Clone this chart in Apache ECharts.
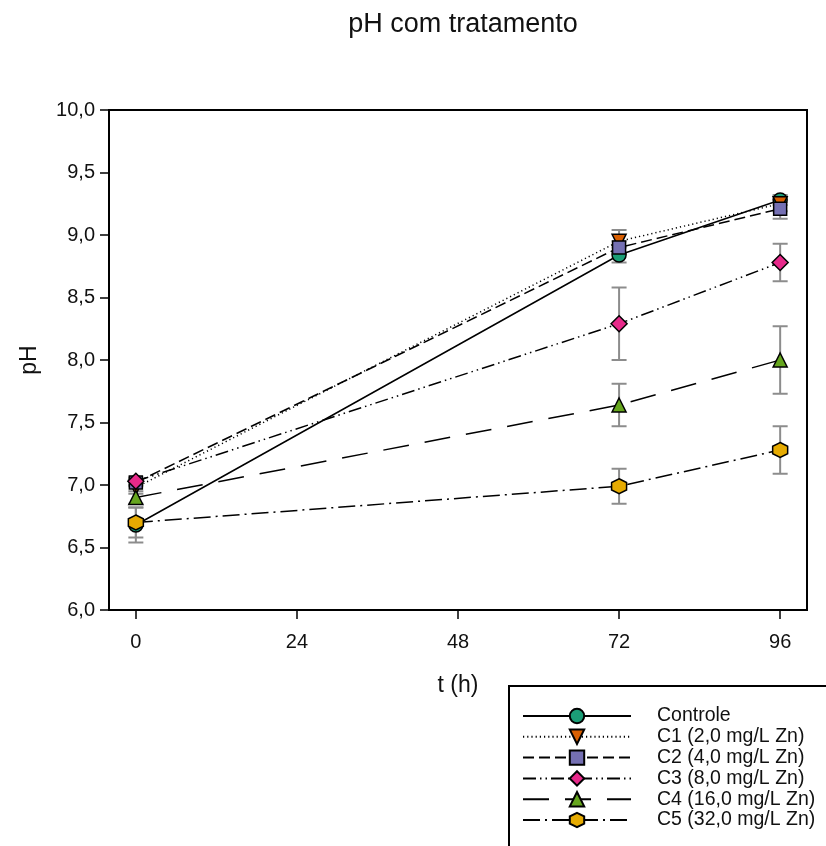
<!DOCTYPE html>
<html>
<head>
<meta charset="utf-8">
<script src="https://cdn.jsdelivr.net/npm/echarts@6/dist/echarts.min.js"></script>
<style>html,body{margin:0;padding:0;background:#fff}#c{width:826px;height:846px}</style>
</head>
<body>
<div id="c"></div>
<script>
const hours = [0, 72, 96];
const xTicks = [0, 24, 48, 72, 96];
const names = ['Controle', 'C1 (2,0 mg/L Zn)', 'C2 (4,0 mg/L Zn)', 'C3 (8,0 mg/L Zn)', 'C4 (16,0 mg/L Zn)', 'C5 (32,0 mg/L Zn)'];
const controle = [6.68, 8.84, 9.28];
const c1 = [6.98, 8.95, 9.25];
const c2 = [7.02, 8.90, 9.21];
const c3 = [7.03, 8.29, 8.78];
const c4 = [6.90, 7.64, 8.00];
const c5 = [6.70, 6.99, 7.28];
const errControle = [0.14, 0.06, 0.04];
const errC1 = [0.05, 0.09, 0.06];
const errC2 = [0.03, 0.05, 0.08];
const errC3 = [0.03, 0.29, 0.15];
const errC4 = [0.05, 0.17, 0.27];
const errC5 = [0.12, 0.14, 0.19];

const values = [controle, c1, c2, c3, c4, c5];
const errs = [errControle, errC1, errC2, errC3, errC4, errC5];
const colors = ['#1b9e77', '#d95f02', '#7570b3', '#e7298a', '#66a61e', '#e6ab02'];
const symbols = ['circle', 'path://M-1,-0.8 L1,-0.8 L0,0.9 Z', 'rect', 'diamond', 'triangle',
  'path://M0,-1 L0.866,-0.5 L0.866,0.5 L0,1 L-0.866,0.5 L-0.866,-0.5 Z'];
const sizes = [14, 14, 13, 16, 14, 15];
const dashes = ['solid', [1.2, 3], [11, 5], [13, 4, 1.5, 4, 1.5, 4], [26, 16], [17, 5, 2, 5]];
const FONT = 'Liberation Sans, Arial, sans-serif';

const series = [];
const errData = [];
values.forEach((v, si) => v.forEach((y, i) => errData.push([hours[i], y - errs[si][i], y + errs[si][i]])));
series.push({
  type: 'custom', silent: true, z: 1,
  data: errData,
  encode: { x: 0, y: [1, 2] },
  renderItem: function (params, api) {
    const x = api.value(0);
    const lo = api.coord([x, api.value(1)]);
    const hi = api.coord([x, api.value(2)]);
    const w = 7.5;
    const st = { stroke: '#8c8c8c', lineWidth: 2 };
    return { type: 'group', children: [
      { type: 'line', shape: { x1: lo[0], y1: lo[1], x2: hi[0], y2: hi[1] }, style: st },
      { type: 'line', shape: { x1: lo[0] - w, y1: lo[1], x2: lo[0] + w, y2: lo[1] }, style: st },
      { type: 'line', shape: { x1: hi[0] - w, y1: hi[1], x2: hi[0] + w, y2: hi[1] }, style: st }
    ]};
  }
});
names.forEach((n, si) => {
  series.push({
    type: 'line', name: n, z: 2 + si,
    data: hours.map((h, i) => [h, values[si][i]]),
    symbol: symbols[si], symbolSize: sizes[si],
    showAllSymbol: true,
    lineStyle: { color: '#000', width: 1.5, type: dashes[si] },
    itemStyle: { color: colors[si], borderColor: '#000', borderWidth: 1.5 },
    emphasis: { disabled: true },
    animation: false
  });
});

const chart = echarts.init(document.getElementById('c'), null, { renderer: 'canvas' });
chart.setOption({
  animation: false,
  backgroundColor: '#fff',
  textStyle: { fontFamily: FONT },
  title: { text: 'pH com tratamento', left: 458, textAlign: 'center', top: 6,
    textStyle: { fontSize: 27, fontWeight: 'normal', color: '#111', fontFamily: FONT } },
  grid: { left: 109, right: 19, top: 110, bottom: 236, show: true, borderColor: '#000', borderWidth: 2, backgroundColor: 'transparent' },
  xAxis: {
    type: 'value', min: -4, max: 100,
    name: 't (h)', nameLocation: 'middle', nameGap: 64,
    nameTextStyle: { fontSize: 23, color: '#111', fontFamily: FONT },
    axisLine: { show: true, onZero: false, lineStyle: { color: '#000', width: 2 } },
    axisTick: { show: true, inside: false, length: 9, customValues: xTicks, lineStyle: { color: '#000', width: 1.5 } },
    axisLabel: { customValues: xTicks, fontSize: 20, color: '#111', margin: 22, fontFamily: FONT },
    splitLine: { show: false }
  },
  yAxis: {
    type: 'value', min: 6, max: 10, interval: 0.5,
    name: 'pH', nameLocation: 'middle', nameGap: 68, nameRotate: 90,
    nameTextStyle: { fontSize: 23, color: '#111', fontFamily: FONT },
    axisLine: { show: true, onZero: false, lineStyle: { color: '#000', width: 2 } },
    axisTick: { show: true, inside: false, length: 9, lineStyle: { color: '#000', width: 1.5 } },
    axisLabel: { fontSize: 20, color: '#111', margin: 14, fontFamily: FONT, formatter: v => v.toFixed(1).replace('.', ',') },
    splitLine: { show: false }
  },
  legend: {
    data: names, orient: 'vertical', left: 517, top: 701,
    itemWidth: 108, itemHeight: 18, itemGap: 0.8,
    textStyle: { fontSize: 19.5, lineHeight: 20, color: '#111', padding: [0, 0, 0, 21], fontFamily: FONT },
    selectedMode: false
  },
  graphic: [{
    type: 'rect', shape: { x: 509, y: 686, width: 330, height: 180 },
    style: { fill: 'none', stroke: '#000', lineWidth: 2 }, z: 0
  }],
  series: series
});
</script>
</body>
</html>
